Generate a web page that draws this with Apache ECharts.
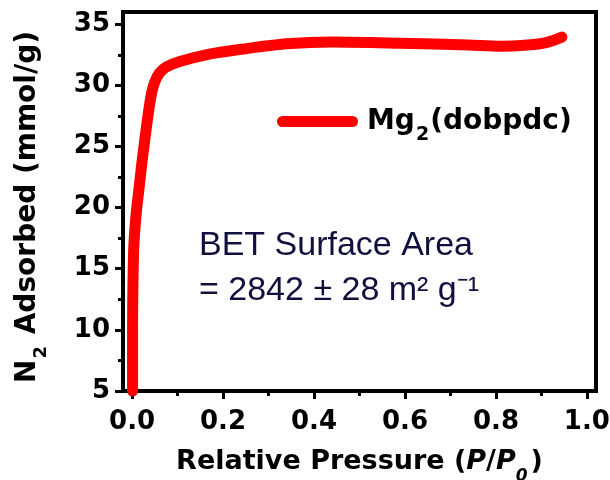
<!DOCTYPE html>
<html>
<head>
<meta charset="utf-8">
<script src="https://cdn.jsdelivr.net/npm/echarts@6/dist/echarts.min.js"></script>
<style>
html,body{margin:0;padding:0;background:#fff;}
#chart{width:610px;height:480px;}
</style>
</head>
<body>
<div id="chart"></div>
<script>
// Data
var pressure = [0.001, 0.001, 0.002, 0.004, 0.009, 0.015, 0.021, 0.027, 0.033, 0.038, 0.043, 0.05, 0.06, 0.075, 0.105, 0.17, 0.24, 0.34, 0.44, 0.59, 0.74, 0.81, 0.87, 0.91, 0.945];
var adsorbed = [5, 10, 14, 17, 19.5, 21.5, 23.5, 25.3, 27.0, 28.3, 29.4, 30.3, 31.0, 31.5, 31.95, 32.55, 32.95, 33.4, 33.55, 33.45, 33.3, 33.2, 33.3, 33.5, 33.95];
var xMajorTicks = [0, 0.2, 0.4, 0.6, 0.8, 1.0];
var xMinorTicks = [0.1, 0.3, 0.5, 0.7, 0.9];
var yMajorTicks = [5, 10, 15, 20, 25, 30, 35];
var yMinorTicks = [7.5, 12.5, 17.5, 22.5, 27.5, 32.5];
var seriesName = 'Mg2(dobpdc)';
var betLine1 = 'BET Surface Area';
var betLine2 = '= 2842 \u00b1 28 m\u00b2 g\u207b\u00b9';

var boldFont = 'DejaVu Sans';
var data = pressure.map(function (p, i) { return [p, adsorbed[i]]; });

var chart = echarts.init(document.getElementById('chart'), null, {renderer: 'canvas'});
chart.setOption({
  animation: false,
  backgroundColor: '#ffffff',
  grid: {
    left: 123, right: 14, top: 12, bottom: 89,
    containLabel: false, outerBoundsMode: 'none',
    show: true, borderColor: '#000', borderWidth: 4, backgroundColor: 'transparent'
  },
  legend: {
    left: 277, top: 98, padding: 0,
    itemWidth: 81, itemHeight: 11,
    icon: 'path://M5.5,0L75.5,0A5.5,5.5,0,0,1,75.5,11L5.5,11A5.5,5.5,0,0,1,5.5,0Z',
    itemStyle: {color: '#ff0000'},
    data: [seriesName],
    formatter: function () { return '{b|Mg}{s|2}{b|(dobpdc)}'; },
    textStyle: {
      padding: [0, 0, 0, 4],
      rich: {
        b: {fontFamily: boldFont, fontWeight: 'bold', fontSize: 28, color: '#000', lineHeight: 50},
        s: {fontFamily: boldFont, fontWeight: 'bold', fontSize: 19, color: '#000', lineHeight: 20, padding: [28, 1, 0, 1]}
      }
    }
  },
  xAxis: [{
    type: 'value', min: -0.02, max: 1.02,
    position: 'bottom',
    splitLine: {show: false},
    axisLine: {show: true, onZero: false, lineStyle: {color: '#000', width: 4}},
    axisTick: {show: true, inside: false, length: 8, customValues: xMajorTicks, lineStyle: {color: '#000', width: 3}},
    axisLabel: {
      customValues: xMajorTicks, margin: 18,
      fontFamily: boldFont, fontWeight: 'bold', fontSize: 26, color: '#000',
      formatter: function (v) { return v.toFixed(1); }
    },
    name: '{b|Relative Pressure (}{i|P}{b|/}{i|P}{si|0}{b|)}',
    nameLocation: 'middle', nameGap: 45,
    nameTextStyle: {
      rich: {
        b: {fontFamily: boldFont, fontWeight: 'bold', fontSize: 27, color: '#000', lineHeight: 50},
        i: {fontFamily: boldFont, fontWeight: 'bold', fontStyle: 'italic', fontSize: 27, color: '#000', lineHeight: 50},
        si: {fontFamily: boldFont, fontWeight: 'bold', fontStyle: 'italic', fontSize: 17, color: '#000', lineHeight: 20, padding: [28, 3, 0, 0]}
      }
    }
  }, {
    type: 'value', min: -0.02, max: 1.02,
    position: 'bottom',
    splitLine: {show: false},
    axisLine: {show: false, onZero: false},
    axisTick: {show: true, inside: false, length: 5, customValues: xMinorTicks, lineStyle: {color: '#000', width: 3}},
    axisLabel: {show: false}
  }],
  yAxis: [{
    type: 'value', min: 5, max: 36,
    position: 'left',
    splitLine: {show: false},
    axisLine: {show: true, onZero: false, lineStyle: {color: '#000', width: 4}},
    axisTick: {show: true, inside: false, length: 8, customValues: yMajorTicks, lineStyle: {color: '#000', width: 3}},
    axisLabel: {
      customValues: yMajorTicks, margin: 13,
      fontFamily: boldFont, fontWeight: 'bold', fontSize: 26, color: '#000'
    }
  }, {
    type: 'value', min: 5, max: 36,
    position: 'left',
    splitLine: {show: false},
    axisLine: {show: false, onZero: false},
    axisTick: {show: true, inside: false, length: 5, customValues: yMinorTicks, lineStyle: {color: '#000', width: 3}},
    axisLabel: {show: false}
  }],
  graphic: [{
    type: 'text', x: 28, y: 207, rotation: Math.PI / 2,
    style: {
      text: '{b|N}{s|2}{b| Adsorbed (mmol/g)}',
      align: 'center', verticalAlign: 'middle',
      rich: {
        b: {fontFamily: boldFont, fontWeight: 'bold', fontSize: 28, fill: '#000', lineHeight: 50},
        s: {fontFamily: boldFont, fontWeight: 'bold', fontSize: 18, fill: '#000', lineHeight: 20, padding: [26, 2, 0, 1]}
      }
    }
  }, {
    type: 'text', x: 199, y: 245.5,
    style: {text: betLine1, fontFamily: 'Liberation Sans', fontSize: 34, fill: '#10103f', align: 'left', verticalAlign: 'middle'}
  }, {
    type: 'text', x: 199, y: 290.5,
    style: {text: betLine2, fontFamily: 'Liberation Sans', fontSize: 34, fill: '#10103f', align: 'left', verticalAlign: 'middle'}
  }],
  series: [{
    name: seriesName,
    type: 'line',
    xAxisIndex: 0, yAxisIndex: 0,
    data: data,
    smooth: 0.3,
    showSymbol: false,
    clip: true,
    lineStyle: {color: '#ff0000', width: 11, cap: 'round', join: 'round'},
    itemStyle: {color: '#ff0000'}
  }]
});
</script>
</body>
</html>
